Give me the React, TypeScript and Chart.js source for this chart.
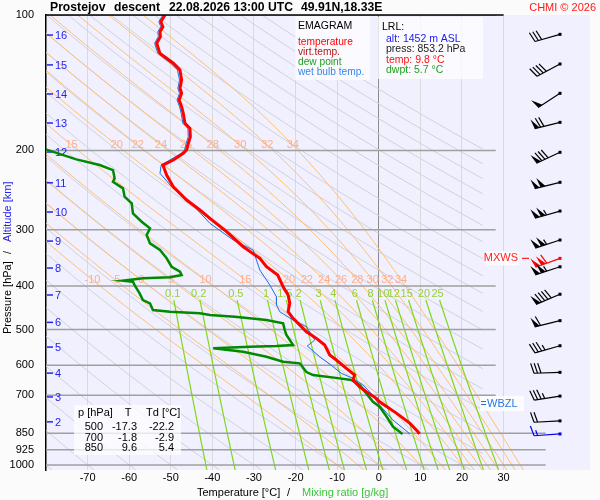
import { useEffect, useRef } from 'react';
import { Chart, registerables } from 'chart.js';

Chart.register(...registerables);
Chart.defaults.font.family = '"Liberation Sans", Arial, Helvetica, sans-serif';

// Axis ticks
const pressureTicks = [100, 200, 300, 400, 500, 600, 700, 850, 925, 1000];
const tempTicks = [-70, -60, -50, -40, -30, -20, -10, 0, 10, 20, 30];
const upperLevels = [100, 200, 300, 400, 500, 600, 700];
const lowerLevels = [850, 925, 1000];

// Altitude marks (km) on the pressure axis
const altKm = [16, 15, 14, 13, 12, 11, 10, 9, 8, 7, 6, 5, 4, 3, 2];
const altP = [110.8, 129.1, 149.8, 173.8, 201.6, 236, 274, 318, 365, 419, 482, 547, 625, 706, 802];

// Sounding: temperature
const tempP = [100, 103.5, 106.2, 108.9, 111.7, 115.6, 121.7, 124.8, 128.0, 132.5, 139.5, 145.5, 149.3, 154.5, 159.9,
  165.4, 174.1, 178.6, 186.4, 192.8, 199.6, 203.0, 210.0, 215.5, 226.8, 240.8, 257.7, 271.3, 283.0, 303.1,
  327.3, 347.3, 362.6, 378.3, 401.7, 419.1, 437.3, 456.5, 472.2, 505.7, 523.1, 541.3, 569.7, 584.5, 609.9,
  631.2, 647.5, 670.1, 687.5, 711.1, 723.6, 767.8, 808.2, 843.6, 853.2];
const tempT = [-51.4, -52.4, -51.9, -52.6, -52.5, -53.4, -52.6, -51.0, -49.4, -47.8, -47.4, -47.8, -47.4, -48.0, -47.4,
  -47.0, -46.6, -45.4, -45.3, -45.8, -46.2, -47.0, -49.4, -51.9, -51.0, -49.4, -46.2, -43.0, -40.6, -36.6,
  -32.6, -28.6, -27.0, -24.3, -23.0, -21.8, -21.4, -21.8, -20.6, -17.4, -15.0, -13.0, -11.8, -10.2, -7.8,
  -5.8, -6.2, -4.6, -3.0, -0.6, 0.2, 4.3, 7.5, 9.4, 9.8];

// Sounding: dew point
const dewP = [197.8, 209.3, 215.5, 221.1, 230.6, 234.7, 242.8, 253.4, 262.1, 275.9, 288.0, 297.9, 308.3, 321.7, 332.9,
  347.3, 362.6, 372.0, 378.3, 382.8, 384.8, 389.5, 391.5, 398.2, 415.5, 430.0, 437.3, 452.6, 456.5, 460.3,
  464.3, 468.4, 476.4, 484.5, 501.3, 514.3, 541.3, 544.1, 546.0, 550.5, 560.2, 574.7, 589.6, 594.5, 621.5,
  631.2, 642.0, 647.5, 664.3, 693.2, 723.6, 742.3, 781.3, 822.3, 853.2];
const dewT = [-80.9, -72.7, -67.1, -63.9, -63.5, -63.9, -61.5, -61.1, -59.4, -59.1, -57.0, -55.0, -55.8, -55.0, -52.6,
  -51.0, -49.8, -47.8, -47.4, -50.2, -56.7, -61.5, -59.1, -58.7, -57.5, -56.7, -55.0, -54.3, -50.2, -43.0,
  -40.6, -34.6, -27.0, -23.0, -22.6, -22.2, -20.6, -24.6, -31.0, -39.8, -32.6, -27.0, -23.0, -19.0, -17.4,
  -15.8, -9.4, -6.6, -4.6, -3.0, -1.4, 0.2, 1.9, 3.4, 5.7];

// Sounding: wet bulb temperature
const wetP = [100, 103.5, 106.2, 108.9, 111.7, 115.6, 121.7, 124.8, 128.0, 132.5, 139.5, 145.5, 149.3, 154.5, 159.9,
  165.4, 174.1, 178.6, 186.4, 192.8, 199.6, 203.0, 215.5, 224.8, 240.8, 255.5, 290.4, 316.3, 332.9, 368.8,
  388.1, 398.2, 422.8, 441.1, 456.5, 476.4, 492.9, 527.7, 544.1, 574.7, 604.9, 625.7, 642.0, 664.3, 687.5,
  735.9, 794.6, 853.2];
const wetT = [-51.9, -52.9, -52.4, -53.1, -53.0, -53.9, -53.1, -51.6, -50.0, -48.4, -47.9, -48.3, -47.9, -48.5, -47.9,
  -47.5, -47.1, -45.9, -45.8, -46.3, -46.7, -47.5, -52.3, -52.6, -49.8, -46.2, -40.6, -35.0, -30.2, -28.6,
  -27.0, -26.2, -24.6, -24.6, -23.8, -20.6, -17.4, -15.4, -17.2, -14.2, -11.0, -9.0, -6.2, -3.8, -2.2,
  0.2, 3.4, 7.5];

// Wind (knots)
const windP = [110.4, 128.5, 149.3, 173.2, 201.9, 235.4, 272.7, 316.3, 347.4, 362.7, 417.4, 477.8, 543.3, 622.4, 703, 798, 853.2];
const windDir = [254, 242, 237, 256, 245, 256, 254, 252, 250, 252, 247, 256, 254, 268, 261, 267, 266];
const windKt = [30, 40, 50, 70, 80, 100, 105, 105, 110, 105, 90, 60, 35, 30, 35, 20, 15];
const mxwsIndex = 8;
const groundIndex = 16;
const wbzlP = 732;

// Isopleths of the diagram
const dryThetas = [-80, -70, -60, -50, -40, -30, -20, -10, 0, 10, 20, 30, 40, 50, 60, 70, 80, 90, 100, 110, 120, 130, 140, 150, 160, 170, 180, 190, 200];
const wetThetas = [-10, -5, 0, 5, 10, 15, 20, 22, 24, 26, 28, 30, 32, 34];
const wetLabelsUpper = [15, 20, 22, 24, 26, 28, 30, 32, 34];
const wetLabelsLower = [-10, -5, 0, 5, 10, 15, 20, 22, 24, 26, 28, 30, 32, 34];
const wetLabelP = [194.5, 388];
const mixRatios = [0.1, 0.2, 0.5, 1, 1.5, 2, 3, 4, 6, 8, 10, 12, 15, 20, 25];
const mixLabelP = 417;
const mixTopP = 430;

// Table and LRL info
const tableP = ['500', '700', '850'];
const tableT = ['-17.3', '-1.8', '9.6'];
const tableTd = ['-22.2', '-2.9', '5.4'];
const lrlLines = [
  { text: 'alt: 1452 m ASL', color: '#2020f0' },
  { text: 'press: 853.2 hPa', color: '#202020' },
  { text: 'temp: 9.8 \u00b0C', color: '#ff1010' },
  { text: 'dwpt: 5.7 \u00b0C', color: '#20a020' },
];
const legendLines = [
  { text: 'temperature', color: '#ff0000' },
  { text: 'virt.temp.', color: '#b01818' },
  { text: 'dew point', color: '#22a022' },
  { text: 'wet bulb temp.', color: '#3a86e8' },
];

type Pt = { x: number | null; y: number | null };

const RD = 287.04, CP = 1005.7, LV = 2.501e6, EPS = 0.622;
const esat = (tc: number) => 6.112 * Math.exp((17.67 * tc) / (tc + 243.5));

function moistSlope(tk: number, p: number) {
  const es = esat(tk - 273.15);
  const rs = (EPS * es) / (p - es);
  return (RD * tk + LV * rs) / (CP + (LV * LV * rs * EPS) / (RD * tk * tk));
}

function rk4(t: number, lnp: number, h: number) {
  const k1 = moistSlope(t, Math.exp(lnp));
  const k2 = moistSlope(t + (h * k1) / 2, Math.exp(lnp + h / 2));
  const k3 = moistSlope(t + (h * k2) / 2, Math.exp(lnp + h / 2));
  const k4 = moistSlope(t + h * k3, Math.exp(lnp + h));
  return t + (h * (k1 + 2 * k2 + 2 * k3 + k4)) / 6;
}

// pseudo-adiabat through theta-w at 1000 hPa
function moistAdiabat(thw: number): Pt[] {
  const t0 = thw + 273.15;
  const lnBottom = Math.log(1026);
  const pts: Pt[] = [{ x: rk4(t0, Math.log(1000), lnBottom - Math.log(1000)) - 273.15, y: 1026 }];
  let t = t0;
  let lnp = Math.log(1000);
  pts.push({ x: thw, y: 1000 });
  const h = -0.01;
  while (lnp > Math.log(100) + 1e-9) {
    t = rk4(t, lnp, h);
    lnp += h;
    pts.push({ x: t - 273.15, y: Math.exp(lnp) });
  }
  return pts;
}

function dryAdiabat(thc: number): Pt[] {
  const thk = thc + 273.15;
  let pStart = 1000 * Math.pow((25 + 273.15) / thk, 1 / 0.2857);
  if (pStart > 1026) pStart = 1026;
  if (pStart <= 100) return [];
  const pts: Pt[] = [];
  const n = 40;
  const a = Math.log(pStart), b = Math.log(100);
  for (let i = 0; i <= n; i++) {
    const p = Math.exp(a + ((b - a) * i) / n);
    pts.push({ x: thk * Math.pow(p / 1000, 0.2857) - 273.15, y: p });
  }
  return pts;
}

function dewFromMix(w: number, p: number) {
  const r = w / 1000;
  const e = (r * p) / (EPS + r);
  const l = Math.log(e / 6.112);
  return (243.5 * l) / (17.67 - l);
}

function mixLine(w: number): Pt[] {
  const pts: Pt[] = [];
  const n = 12;
  const a = Math.log(1026), b = Math.log(mixTopP);
  for (let i = 0; i <= n; i++) {
    const p = Math.exp(a + ((b - a) * i) / n);
    pts.push({ x: dewFromMix(w, p), y: p });
  }
  return pts;
}

function tempAtP(pts: Pt[], p: number) {
  for (let i = 1; i < pts.length; i++) {
    const p0 = pts[i - 1].y as number, p1 = pts[i].y as number;
    if ((p0 - p) * (p1 - p) <= 0) {
      const f = (Math.log(p) - Math.log(p0)) / (Math.log(p1) - Math.log(p0));
      return (pts[i - 1].x as number) + f * ((pts[i].x as number) - (pts[i - 1].x as number));
    }
  }
  return NaN;
}

const joinCurves = (curves: Pt[][]) => {
  const out: Pt[] = [];
  curves.forEach((c) => {
    out.push(...c);
    out.push({ x: null, y: null });
  });
  return out;
};

const moistCurves: Record<number, Pt[]> = {};
wetThetas.forEach((t) => (moistCurves[t] = moistAdiabat(t)));

const toPts = (ps: number[], ts: number[]) => ps.map((p, i) => ({ x: ts[i], y: p }));

function drawBarb(ctx: CanvasRenderingContext2D, x: number, y: number, dir: number, kt: number, color: string) {
  const a = (dir * Math.PI) / 180;
  const ux = Math.sin(a), uy = -Math.cos(a);
  const px = -uy, py = ux;
  const L = 26, bl = 10, gap = 3.5;
  const tx = x + ux * L, ty = y + uy * L;
  ctx.save();
  ctx.strokeStyle = color;
  ctx.fillStyle = color;
  ctx.lineWidth = 1.2;
  ctx.beginPath();
  ctx.moveTo(x, y);
  ctx.lineTo(tx, ty);
  ctx.stroke();
  let rem = Math.round(kt / 5) * 5;
  let d = 0;
  while (rem >= 50) {
    const b1x = tx - ux * d, b1y = ty - uy * d;
    const b2x = tx - ux * (d + 5), b2y = ty - uy * (d + 5);
    ctx.beginPath();
    ctx.moveTo(b1x, b1y);
    ctx.lineTo(b1x + px * bl + ux * 2, b1y + py * bl + uy * 2);
    ctx.lineTo(b2x, b2y);
    ctx.closePath();
    ctx.fill();
    d += 6;
    rem -= 50;
  }
  while (rem >= 10) {
    const bx = tx - ux * d, by = ty - uy * d;
    ctx.beginPath();
    ctx.moveTo(bx, by);
    ctx.lineTo(bx + px * bl + ux * 3, by + py * bl + uy * 3);
    ctx.stroke();
    d += gap;
    rem -= 10;
  }
  if (rem >= 5) {
    if (d === 0) d = gap;
    const bx = tx - ux * d, by = ty - uy * d;
    ctx.beginPath();
    ctx.moveTo(bx, by);
    ctx.lineTo(bx + px * bl * 0.55 + ux * 1.5, by + py * bl * 0.55 + uy * 1.5);
    ctx.stroke();
  }
  ctx.fillRect(x - 1.5, y - 1.5, 3, 3);
  ctx.restore();
}

const FONT = '"Liberation Sans", Arial, Helvetica, sans-serif';
const WET_INDEX = 2;

const overlay = {
  id: 'emagramOverlay',
  beforeDraw(chart: any) {
    const { ctx, chartArea: a } = chart;
    ctx.save();
    ctx.fillStyle = '#fbfbfb';
    ctx.fillRect(0, 0, chart.width, chart.height);
    ctx.fillStyle = '#f0f0ff';
    ctx.fillRect(a.left, a.top, a.right - a.left, a.bottom - a.top);
    ctx.restore();
  },
  beforeDatasetDraw(chart: any, args: any) {
    if (args.index !== WET_INDEX) return;
    const { ctx, chartArea: a } = chart;
    const xs = chart.scales.x, ys = chart.scales.y;
    ctx.save();
    ctx.textAlign = 'center';
    ctx.textBaseline = 'middle';
    ctx.font = `11px ${FONT}`;
    // moist adiabat labels
    ctx.fillStyle = '#ffae8c';
    [wetLabelsUpper, wetLabelsLower].forEach((row, r) => {
      row.forEach((thw) => {
        const t = tempAtP(moistCurves[thw], wetLabelP[r]);
        const px = xs.getPixelForValue(t);
        if (!isFinite(px) || px < a.left + 8) return;
        ctx.fillText(String(thw), px, ys.getPixelForValue(wetLabelP[r]));
      });
    });
    // mixing ratio labels
    ctx.fillStyle = '#96d036';
    mixRatios.forEach((w) => {
      const px = xs.getPixelForValue(dewFromMix(w, mixLabelP));
      ctx.fillText(String(w), px, ys.getPixelForValue(mixLabelP));
    });
    // altitude marks
    ctx.textAlign = 'left';
    ctx.fillStyle = '#2424ee';
    ctx.strokeStyle = '#2424ee';
    ctx.lineWidth = 1.5;
    ctx.font = `11px ${FONT}`;
    altKm.forEach((km, i) => {
      const py = ys.getPixelForValue(altP[i]);
      ctx.beginPath();
      ctx.moveTo(a.left + 1, py);
      ctx.lineTo(a.left + 7, py);
      ctx.stroke();
      ctx.fillText(String(km), a.left + 9, py + 1);
    });
    ctx.restore();
  },
  afterDatasetsDraw(chart: any) {
    const { ctx, chartArea: a } = chart;
    const xs = chart.scales.x, ys = chart.scales.y;
    ctx.save();
    // top border
    ctx.strokeStyle = '#000';
    ctx.lineWidth = 1.5;
    ctx.beginPath();
    ctx.moveTo(a.left, a.top);
    ctx.lineTo(xs.getPixelForValue(30), a.top);
    ctx.stroke();

    // legend box
    ctx.fillStyle = 'rgba(255,255,255,0.75)';
    ctx.fillRect(295, a.top + 1, 75, 64);
    ctx.textBaseline = 'middle';
    ctx.textAlign = 'left';
    ctx.font = `10.5px ${FONT}`;
    ctx.fillStyle = '#000';
    ctx.fillText('EMAGRAM', 298, 26);
    ctx.font = `10.2px ${FONT}`;
    legendLines.forEach((l, i) => {
      ctx.fillStyle = l.color;
      ctx.fillText(l.text, 298, 42 + i * 10);
    });

    // LRL box
    ctx.fillStyle = 'rgba(255,255,255,0.75)';
    ctx.fillRect(378, a.top + 2, 105, 62);
    ctx.font = `10.5px ${FONT}`;
    ctx.fillStyle = '#000';
    ctx.fillText('LRL:', 382, 27);
    lrlLines.forEach((l, i) => {
      ctx.fillStyle = l.color;
      ctx.fillText(l.text, 386, 39 + i * 10.5);
    });

    // table box
    ctx.fillStyle = 'rgba(255,255,255,0.75)';
    ctx.fillRect(74, 405, 107, 50);
    ctx.font = `11px ${FONT}`;
    ctx.fillStyle = '#000';
    ctx.fillText('p [hPa]', 78, 413);
    ctx.textAlign = 'center';
    ctx.fillText('T', 128, 413);
    ctx.textAlign = 'left';
    ctx.fillText('Td [\u00b0C]', 146, 413);
    ctx.textAlign = 'right';
    tableP.forEach((p, i) => {
      const yy = 427 + i * 10.7;
      ctx.fillText(p, 103, yy);
      ctx.fillText(tableT[i], 137, yy);
      ctx.fillText(tableTd[i], 174, yy);
    });

    // WBZL marker
    const wy = ys.getPixelForValue(wbzlP);
    ctx.fillStyle = 'rgba(255,255,255,0.8)';
    ctx.fillRect(480, wy - 8, 44, 15);
    ctx.strokeStyle = '#ff2020';
    ctx.lineWidth = 1;
    ctx.beginPath();
    ctx.moveTo(481, wy - 2.5);
    ctx.lineTo(486, wy - 2.5);
    ctx.stroke();
    ctx.strokeStyle = '#2070e0';
    ctx.beginPath();
    ctx.moveTo(481, wy + 0.5);
    ctx.lineTo(486, wy + 0.5);
    ctx.stroke();
    ctx.textAlign = 'left';
    ctx.fillStyle = '#2a78e0';
    ctx.font = `11px ${FONT}`;
    ctx.fillText('WBZL', 487, wy);

    // MXWS marker
    const my = ys.getPixelForValue(windP[mxwsIndex]);
    ctx.fillStyle = 'rgba(255,255,255,0.85)';
    ctx.fillRect(486, my - 7, 33, 14);
    ctx.fillStyle = '#ff2020';
    ctx.textAlign = 'right';
    ctx.fillText('MXWS', 518, my);
    ctx.strokeStyle = '#ff2020';
    ctx.lineWidth = 1.2;
    ctx.beginPath();
    ctx.moveTo(522, my);
    ctx.lineTo(529, my);
    ctx.stroke();

    // wind barbs
    const bx = a.right - 30;
    windP.forEach((p, i) => {
      const color = i === mxwsIndex ? '#ff0000' : i === groundIndex ? '#0000ee' : '#000000';
      drawBarb(ctx, bx, ys.getPixelForValue(p), windDir[i], windKt[i], color);
    });
    ctx.restore();
  },
  afterDraw(chart: any) {
    const { ctx } = chart;
    ctx.save();
    ctx.textBaseline = 'middle';
    ctx.textAlign = 'left';
    ctx.fillStyle = '#000';
    ctx.font = `bold 12.2px ${FONT}`;
    ctx.fillText('Prostejov', 50, 7.5);
    ctx.fillText('descent', 114, 7.5);
    ctx.fillText('22.08.2026 13:00 UTC', 169, 7.5);
    ctx.fillText('49.91N,18.33E', 301, 7.5);
    ctx.font = `11px ${FONT}`;
    ctx.fillStyle = '#ff1a1a';
    ctx.textAlign = 'right';
    ctx.fillText('CHMI \u00a9 2026', 596, 7.5);

    // x axis title
    ctx.textAlign = 'left';
    ctx.fillStyle = '#000';
    ctx.fillText('Temperature [\u00b0C]', 197, 493);
    ctx.fillText('/', 287, 493);
    ctx.fillStyle = '#3ec43e';
    ctx.fillText('Mixing ratio [g/kg]', 302, 493);

    // y axis title
    ctx.translate(8, 334);
    ctx.rotate(-Math.PI / 2);
    ctx.fillStyle = '#000';
    ctx.fillText('Pressure [hPa]', 0, 0);
    ctx.fillText('/', 80, 0);
    ctx.fillStyle = '#2424ee';
    ctx.fillText('Altitude [km]', 92, 0);
    ctx.restore();
  },
};

function line(data: Pt[], color: string, width: number, order: number) {
  return {
    data,
    borderColor: color,
    borderWidth: width,
    showLine: true,
    pointRadius: 0,
    pointHoverRadius: 0,
    tension: 0,
    fill: false,
    spanGaps: false,
    order,
  };
}

export default function App() {
  const canvasRef = useRef<HTMLCanvasElement>(null);

  useEffect(() => {
    document.body.style.margin = '0';
    if (!canvasRef.current) return;

    const pressureLines = joinCurves([
      ...upperLevels.map((p) => [{ x: -80, y: p }, { x: 28.1, y: p }]),
      ...lowerLevels.map((p) => [{ x: -80, y: p }, { x: 40.1, y: p }]),
    ]);

    const chart = new Chart(canvasRef.current, {
      type: 'scatter',
      data: {
        datasets: [
          line(toPts(tempP, tempT), '#ff0000', 3, 0),
          line(toPts(dewP, dewT), '#008a00', 2.5, 1),
          line(toPts(wetP, wetT), '#1f6fe0', 1, 2),
          line(pressureLines, '#a0a0a0', 1.5, 3),
          line(joinCurves(mixRatios.map(mixLine)), '#80d816', 1.2, 4),
          line(joinCurves(wetThetas.map((t) => moistCurves[t])), '#ffbf72', 1, 5),
          line(joinCurves(dryThetas.map(dryAdiabat)), '#d2d2dc', 1, 6),
        ] as any,
      },
      options: {
        animation: false,
        responsive: false,
        devicePixelRatio: 1,
        events: [],
        layout: { padding: { top: 15, right: 10, left: 0, bottom: 0 } },
        plugins: { legend: { display: false }, tooltip: { enabled: false } },
        scales: {
          x: {
            type: 'linear',
            min: -80,
            max: 50.77,
            afterBuildTicks: (axis: any) => {
              axis.ticks = tempTicks.map((v) => ({ value: v }));
            },
            afterFit: (s: any) => {
              s.height = 30;
            },
            ticks: { color: '#000', font: { size: 11 }, padding: 1, maxRotation: 0, autoSkip: false },
            grid: {
              drawTicks: false,
              lineWidth: 1,
              color: (c: any) => (c.tick && c.tick.value === 0 ? '#8c8c8c' : '#dadada'),
            },
            border: { display: false },
          },
          y: {
            type: 'logarithmic',
            reverse: true,
            min: 100,
            max: 1026,
            afterBuildTicks: (axis: any) => {
              axis.ticks = pressureTicks.map((v) => ({ value: v }));
            },
            afterFit: (s: any) => {
              s.width = 46;
            },
            ticks: {
              color: '#000',
              font: { size: 11 },
              padding: 4,
              autoSkip: false,
              callback: (v: any) => String(v),
            },
            grid: { display: false },
            border: { display: true, color: '#000', width: 1.5 },
          },
        },
      } as any,
      plugins: [overlay],
    });

    return () => chart.destroy();
  }, []);

  return (
    <div style={{ width: 600, height: 500 }}>
      <canvas ref={canvasRef} width={600} height={500} style={{ display: 'block' }} />
    </div>
  );
}
